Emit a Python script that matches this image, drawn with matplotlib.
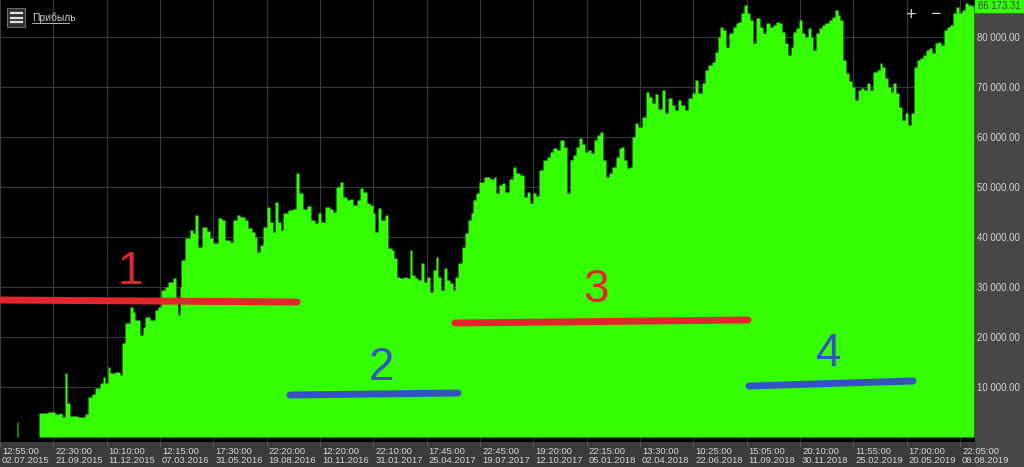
import numpy as np
import matplotlib
matplotlib.use("Agg")
import matplotlib.pyplot as plt
from matplotlib.lines import Line2D
from matplotlib.patches import Rectangle
import matplotlib.transforms as mtransforms

# --- data: equity curve (bar index, profit) ---
bar_idx = [0, 16, 17, 18, 39, 48, 55, 60, 62, 65, 67, 70, 78, 85, 88, 92, 95, 100, 103, 105,
           108, 110, 115, 120, 122, 125, 130, 133, 135, 140, 143, 145, 150, 155, 158, 161, 165, 168, 173, 176,
           178, 180, 181, 185, 190, 193, 195, 198, 202, 207, 210, 213, 218, 222, 225, 230, 233, 237, 240, 245,
           248, 252, 255, 257, 260, 263, 267, 270, 273, 275, 278, 281, 283, 288, 292, 296, 299, 303, 307, 311,
           315, 318, 321, 325, 330, 333, 336, 340, 343, 347, 350, 353, 357, 360, 363, 367, 370, 373, 375, 378,
           381, 385, 388, 392, 394, 397, 400, 404, 407, 410, 412, 415, 418, 421, 424, 427, 430, 433, 436, 438,
           441, 444, 447, 450, 453, 455, 458, 462, 465, 468, 471, 473, 476, 479, 484, 487, 490, 494, 496, 499,
           502, 505, 509, 513, 516, 520, 524, 527, 530, 533, 536, 539, 543, 547, 550, 553, 557, 560, 564, 567,
           570, 573, 576, 579, 582, 585, 588, 591, 594, 597, 600, 603, 606, 609, 612, 616, 619, 621, 624, 627,
           630, 632, 635, 638, 642, 646, 649, 652, 655, 658, 662, 665, 668, 672, 675, 678, 681, 685, 688, 692,
           695, 698, 702, 705, 708, 712, 715, 718, 720, 723, 726, 729, 733, 736, 738, 741, 744, 747, 750, 753,
           756, 760, 763, 766, 770, 773, 776, 779, 782, 785, 788, 791, 793, 796, 799, 802, 805, 808, 811, 813,
           816, 819, 822, 825, 829, 832, 835, 838, 840, 843, 846, 849, 852, 855, 858, 861, 864, 867, 870, 873,
           877, 880, 882, 885, 888, 891, 893, 896, 899, 902, 905, 908, 911, 914, 917, 920, 923, 926, 929, 932,
           935, 938, 941, 944, 947, 950, 953, 956, 959, 962, 965, 968, 972, 974]
profit = [0, 0, 3000, 0, 4800, 5000, 4600, 4800, 4000, 12800, 6800, 4200, 4000, 4600, 8000, 8600, 9800, 10800, 12000, 10800,
          14000, 12800, 13000, 12400, 18800, 22800, 26000, 25000, 23400, 20400, 22000, 24000, 23400, 25400, 26000, 29400, 30000, 31000, 31800, 28000,
          24400, 30000, 35400, 39800, 41400, 40800, 44400, 38000, 42000, 41200, 39800, 38800, 43800, 43400, 39400, 39000, 43400, 44400, 44000, 43400,
          41800, 41000, 40000, 37000, 38400, 42000, 46000, 43000, 41000, 47000, 43000, 41400, 44800, 45400, 45600, 52800, 48800, 45600, 46200, 43400,
          42800, 44800, 43000, 46000, 45600, 45000, 50000, 51000, 48000, 47400, 47600, 46400, 47400, 49800, 49000, 46800, 46400, 44800, 41000, 45800,
          43400, 44400, 37800, 37400, 35800, 32000, 31800, 32000, 31800, 37400, 32400, 31800, 31400, 34800, 31000, 32000, 29000, 33400, 36000, 32000,
          29400, 33800, 31400, 30800, 29400, 32000, 34800, 38000, 40800, 43400, 44800, 47400, 48800, 51000, 52000, 52000, 51600, 52000, 48800, 50400,
          50800, 49000, 51600, 54000, 52800, 52400, 48000, 49000, 46800, 48800, 48200, 53400, 55400, 56000, 57000, 57800, 57400, 59400, 58000, 48800,
          55400, 56400, 58000, 59800, 58600, 57000, 57400, 56800, 59400, 60400, 61000, 55400, 52000, 52800, 54000, 56000, 57800, 58000, 55400, 53800,
          54000, 60000, 62800, 62000, 64000, 69000, 68000, 66800, 68600, 65600, 69400, 64800, 67800, 66400, 65400, 67400, 66400, 65400, 67800, 68800,
          71400, 68800, 70800, 73400, 74400, 75000, 77000, 80000, 82000, 81400, 78000, 80800, 82000, 82800, 83000, 84800, 86400, 84800, 83400, 78800,
          83800, 82000, 80800, 82800, 82000, 82400, 83000, 82800, 81000, 78800, 76400, 78000, 81000, 81800, 83400, 80800, 80000, 81800, 80000, 77400,
          80800, 81800, 82400, 82800, 83400, 84000, 85400, 84400, 83400, 75400, 72800, 71200, 70000, 67400, 69400, 69800, 69400, 70800, 69400, 73000,
          73400, 74800, 74000, 71800, 70000, 69000, 70800, 68800, 66000, 63400, 64800, 62400, 64800, 74000, 75400, 75800, 76400, 77400, 77800, 76800,
          78800, 79000, 78400, 81400, 82000, 82400, 84800, 86000, 84800, 85400, 86800, 86400, 86173.31, 86173.31]
last_profit = 86173.31

tick_times = ["12:55:00", "22:30:00", "10:10:00", "12:15:00", "17:30:00", "22:20:00", "12:20:00",
              "22:10:00", "17:45:00", "22:45:00", "19:20:00", "22:15:00", "13:30:00", "10:25:00",
              "15:05:00", "20:10:00", "11:55:00", "17:00:00", "22:05:00"]
tick_dates = ["02.07.2015", "21.09.2015", "11.12.2015", "07.03.2016", "31.05.2016", "19.08.2016",
              "10.11.2016", "31.01.2017", "25.04.2017", "19.07.2017", "12.10.2017", "05.01.2018",
              "02.04.2018", "22.06.2018", "11.09.2018", "30.11.2018", "25.02.2019", "20.05.2019",
              "08.08.2019"]
y_ticks = [10000, 20000, 30000, 40000, 50000, 60000, 70000, 80000]

W, H = 1024, 467
plt.rcParams['font.family'] = ['Liberation Sans', 'DejaVu Sans']

fig = plt.figure(figsize=(W / 100, H / 100), dpi=100, facecolor='#474747')
ax = fig.add_axes([0, 25 / H, 975 / W, 442 / H])
ax.set_facecolor('black')

# bottom panel a bit darker than the right one
fig.add_artist(Rectangle((0, 0), 975 / W, 25 / H, transform=fig.transFigure,
                         color='#3b3b3b', zorder=0))

ax.fill_between(bar_idx, profit, step='post', color='#33ff00', lw=0, zorder=2)

ax.set_xlim(0, 975)
ax.set_ylim(-1000, 87400)

# grid
ax.set_yticks(y_ticks)
ax.set_yticklabels([f"{v:,.2f}".replace(",", " ") for v in y_ticks])
tick_step = 960 / 18
ax.set_xticks([i * tick_step for i in range(len(tick_times))])
ax.set_xticklabels([f"{t}\n{d}" for t, d in zip(tick_times, tick_dates)])
ax.grid(True, color='#3a3a3a', lw=0.8, zorder=0)
ax.set_axisbelow(True)

ax.yaxis.tick_right()
ax.tick_params(axis='y', length=0, pad=1.5, labelsize=6.9, labelcolor='#d6d6d6')
ax.tick_params(axis='x', length=3, width=0.8, color='#5e5e5e', pad=0.3,
               labelsize=6.8, labelcolor='#d6d6d6')
offset = mtransforms.ScaledTranslation(2 / 100, 0, fig.dpi_scale_trans)
for lbl in ax.get_xticklabels():
    lbl.set_horizontalalignment('left')
    lbl.set_linespacing(1.0)
    lbl.set_transform(lbl.get_transform() + offset)
for s in ax.spines.values():
    s.set_visible(False)


def fx(x):
    return x / W


def fy(y):
    return 1 - y / H


# last value label (top right)
fig.add_artist(Rectangle((fx(975), fy(12)), 49 / W, 12 / H, transform=fig.transFigure,
                         color='#33ff00', zorder=5))
fig.text(fx(999.5), fy(6), f"{last_profit:,.2f}".replace(",", " "), ha='center', va='center',
         fontsize=6.9, color='#404040', zorder=6)

# toolbar icon + title
fig.add_artist(Rectangle((fx(7), fy(27)), 18 / W, 19 / H, transform=fig.transFigure,
                         facecolor='#2e2e2e', edgecolor='#6a6a6a', lw=0.8, zorder=5))
for yy in (13, 17.5, 22):
    fig.add_artist(Line2D([fx(10.5), fx(11.5)], [fy(yy), fy(yy)], transform=fig.transFigure,
                          color='#e0e0e0', lw=1.6, zorder=6))
    fig.add_artist(Line2D([fx(13), fx(21.5)], [fy(yy), fy(yy)], transform=fig.transFigure,
                          color='#e0e0e0', lw=1.6, zorder=6))
fig.text(fx(32), fy(17.5), "Прибыль", ha='left', va='center', fontsize=7.4, color='#cfcfcf')
fig.add_artist(Line2D([fx(32), fx(69)], [fy(23), fy(23)], transform=fig.transFigure,
                      color='#cfcfcf', lw=0.6))

# zoom buttons
fig.text(fx(910), fy(15), "+", ha='center', va='center', fontsize=13, color='#d8d8d8')
fig.text(fx(935), fy(15), "\u2212", ha='center', va='center', fontsize=13, color='#d8d8d8')

# hand-drawn annotations
red = '#e3262c'
blue = '#3552c4'
marks = [
    ((0, 300), (297, 302), red, "1", (130, 272)),
    ((290, 395), (458, 393), blue, "2", (381, 368)),
    ((455, 323), (748, 320), red, "3", (596, 290)),
    ((749, 386), (913, 381), blue, "4", (829, 354)),
]
for (x0, y0), (x1, y1), col, num, (tx, ty) in marks:
    fig.add_artist(Line2D([fx(x0), fx(x1)], [fy(y0), fy(y1)], transform=fig.transFigure,
                          color=col, lw=5, solid_capstyle='round', zorder=7))
    fig.text(fx(tx), fy(ty), num, ha='center', va='center', fontsize=33, color=col, zorder=7)

fig.savefig('out.png', dpi=100, facecolor=fig.get_facecolor())
